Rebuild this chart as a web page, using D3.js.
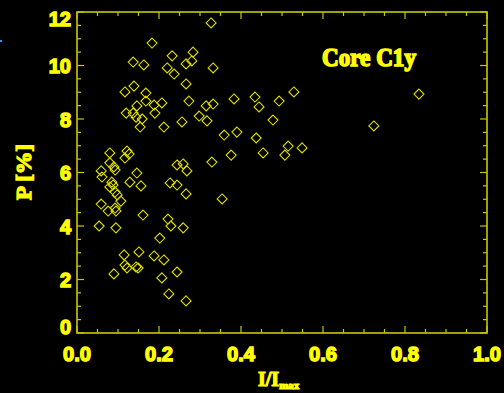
<!DOCTYPE html>
<html><head><meta charset="utf-8">
<script src="https://cdn.jsdelivr.net/npm/d3@7"></script>
<style>html,body{margin:0;padding:0;background:#000;}svg{display:block;}</style>
</head><body>
<script>
const xValues = [0.327,0.183,0.137,0.163,0.220,0.232,0.237,0.266,0.283,0.280,0.332,0.266,0.273,0.298,0.117,0.139,0.168,0.168,0.188,0.207,0.146,0.120,0.137,0.144,0.159,0.154,0.190,0.212,0.256,0.383,0.434,0.444,0.493,0.529,0.315,0.332,0.317,0.478,0.359,0.390,0.437,0.376,0.454,0.515,0.507,0.549,0.329,0.244,0.259,0.268,0.266,0.354,0.834,0.724,0.080,0.122,0.127,0.117,0.080,0.090,0.093,0.059,0.061,0.146,0.129,0.156,0.085,0.088,0.080,0.093,0.098,0.107,0.059,0.076,0.093,0.095,0.161,0.054,0.095,0.227,0.244,0.222,0.229,0.259,0.202,0.115,0.151,0.188,0.212,0.117,0.122,0.144,0.149,0.090,0.244,0.207,0.224,0.266];
const pValues = [11.59,10.84,10.13,10.02,9.91,10.36,9.68,10.06,10.50,10.17,9.91,9.31,8.67,8.11,9.01,9.23,8.97,8.67,8.52,8.60,8.49,8.22,8.22,8.07,8.00,7.70,8.22,7.70,7.89,8.75,8.82,8.45,8.67,9.01,8.49,8.56,7.93,7.96,7.40,7.51,7.29,6.65,6.73,6.99,6.65,6.92,6.39,6.28,6.32,6.06,5.20,5.01,8.93,7.74,6.73,6.80,6.69,6.54,6.36,6.21,6.09,6.06,5.83,5.98,5.64,5.50,5.64,5.53,5.46,5.27,5.16,4.93,4.82,4.56,4.67,4.56,4.41,4.00,3.93,5.61,5.53,4.26,4.00,3.93,3.55,2.92,3.03,2.88,2.73,2.54,2.43,2.47,2.43,2.21,2.28,2.06,1.46,1.20];
const xTickLabels = ["0.0","0.2","0.4","0.6","0.8","1.0"];
const yTickLabels = ["0","2","4","6","8","10","12"];
const titleText = "Core C1y";

(function () {
const W = 504, H = 393;
const pLeft = 77, pRight = 487, pTop = 12, pBottom = 333;
const axisColor = "#c8c800", markColor = "#dede00", textColor = "#ffff00";

const svg = d3.select("body").append("svg").attr("width", W).attr("height", H).style("background", "#000");
const x = d3.scaleLinear().domain([0, 1]).range([pLeft, pRight]);
const y = d3.scaleLinear().domain([0, 12]).range([pBottom, pTop]);

svg.append("rect").attr("x", pLeft).attr("y", pTop).attr("width", pRight - pLeft).attr("height", pBottom - pTop)
  .attr("fill", "none").attr("stroke", axisColor).attr("stroke-width", 1.6);

const g = svg.append("g").attr("stroke", axisColor).attr("stroke-width", 1.2);
d3.range(0, 21).map(i => i * 0.05).forEach((v, i) => {
  const len = i % 4 === 0 ? 7 : 4;
  g.append("line").attr("x1", x(v)).attr("x2", x(v)).attr("y1", pBottom).attr("y2", pBottom - len);
  g.append("line").attr("x1", x(v)).attr("x2", x(v)).attr("y1", pTop).attr("y2", pTop + len);
});
d3.range(0, 25).map(i => i * 0.5).forEach((v, i) => {
  const len = i % 4 === 0 ? 7 : 4;
  g.append("line").attr("x1", pLeft).attr("x2", pLeft + len).attr("y1", y(v)).attr("y2", y(v));
  g.append("line").attr("x1", pRight).attr("x2", pRight - len).attr("y1", y(v)).attr("y2", y(v));
});

const labelFont = "'Liberation Sans', Arial, sans-serif";
xTickLabels.forEach(t => {
  svg.append("text").attr("x", x(+t)).attr("y", 361)
    .attr("text-anchor", "middle").attr("font-family", labelFont).attr("font-weight", "bold")
    .attr("font-size", 20).attr("fill", textColor).attr("stroke", textColor).attr("stroke-width", 1.4)
    .attr("textLength", 28).attr("lengthAdjust", "spacingAndGlyphs").text(t);
});
yTickLabels.forEach(t => {
  const cy = Math.min(Math.max(y(+t), 18), 326);
  svg.append("text").attr("x", 71).attr("y", cy + 7.5)
    .attr("text-anchor", "end").attr("font-family", labelFont).attr("font-weight", "bold")
    .attr("font-size", 20).attr("fill", textColor).attr("stroke", textColor).attr("stroke-width", 1.4)
    .text(t);
});

svg.append("text").attr("transform", "translate(31,172) rotate(-90)")
  .attr("text-anchor", "middle").attr("font-family", "'Liberation Serif', serif").attr("font-weight", "bold")
  .attr("font-size", 20).attr("fill", textColor).attr("stroke", textColor).attr("stroke-width", 1.3)
  .attr("textLength", 56).attr("lengthAdjust", "spacingAndGlyphs")
  .text("P [%]");
const xt = svg.append("text").attr("x", 258).attr("y", 386)
  .attr("font-family", "'Liberation Serif', serif").attr("font-weight", "bold")
  .attr("fill", textColor).attr("stroke", textColor).attr("stroke-width", 1.2);
xt.append("tspan").attr("font-size", 20).text("I/I");
xt.append("tspan").attr("font-size", 11).attr("dy", 3).text("max");

svg.append("text").attr("x", 322).attr("y", 66)
  .attr("font-family", "'Liberation Serif', serif").attr("font-weight", "bold")
  .attr("font-size", 25).attr("fill", textColor).attr("stroke", textColor).attr("stroke-width", 1.6)
  .attr("textLength", 94).attr("lengthAdjust", "spacingAndGlyphs").text(titleText);

svg.append("rect").attr("x", 0).attr("y", 40).attr("width", 2).attr("height", 2).attr("fill", "#1ea0ff");

const r = 5;
svg.append("g").selectAll("path").data(xValues.map((v, i) => [v, pValues[i]])).join("path")
  .attr("d", d => `M${x(d[0])},${y(d[1]) - r}L${x(d[0]) + r},${y(d[1])}L${x(d[0])},${y(d[1]) + r}L${x(d[0]) - r},${y(d[1])}Z`)
  .attr("fill", "none").attr("stroke", markColor).attr("stroke-width", 1.1);
})();
</script>
</body></html>
